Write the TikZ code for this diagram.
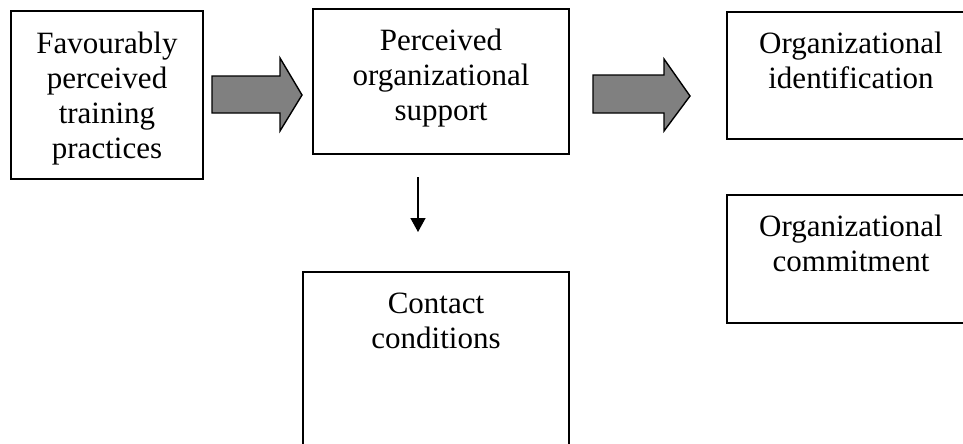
\documentclass[tikz,border=0pt]{standalone}
\usepackage{fontspec}
\setmainfont{Liberation Serif}
\usetikzlibrary{arrows.meta,calc}
\begin{document}
\begin{tikzpicture}[x=1pt,y=-1pt,
  frame/.style={draw=black,line width=1.6pt,fill=white,inner sep=0pt},
  label/.style={anchor=north,inner sep=0pt,align=center,
    font=\fontsize{31}{35}\selectfont},
  blockarrow/.style={draw=black,line width=1.4pt,fill=gray!100!white,fill=gray,line join=miter},
  thinarrow/.style={line width=1.5pt,-{Triangle[width=15pt,length=14pt]}}]
\clip (0,0) rectangle (963,444);
\fill[white] (0,0) rectangle (963,444);
% boxes
\draw[frame] (11,11) rectangle (203,179);
\draw[frame] (313,9) rectangle (569,154);
\draw[frame] (727,12) rectangle (975,139);
\draw[frame] (727,195) rectangle (975,323);
\draw[frame] (303,272) rectangle (569,470);
% box anchors
\coordinate (b1) at (107,11);
\coordinate (b2) at (441,9);
\coordinate (b3) at (851,12);
\coordinate (b4) at (851,195);
\coordinate (b5) at (436,272);
% labels
\node[label] (t1) at ($(b1)+(0,17.5)$) {\strut Favourably\\perceived\\training\\practices};
\node[label] (t2) at ($(b2)+(0,16.5)$) {\strut Perceived\\organizational\\support};
\node[label] (t3) at ($(b3)+(0,16.5)$) {\strut Organizational\\identification};
\node[label] (t4) at ($(b4)+(0,16.5)$) {\strut Organizational\\commitment};
\node[label] (t5) at ($(b5)+(0,16.5)$) {\strut Contact\\conditions};
% block arrows
\draw[blockarrow] (212,76) -- (280,76) -- (280,58) -- (302,95) -- (280,131)
  -- (280,113) -- (212,113) -- cycle;
\draw[blockarrow] (593,75) -- (664,75) -- (664,59) -- (690,96) -- (664,131)
  -- (664,113) -- (593,113) -- cycle;
% downward arrow
\coordinate (d0) at (418,177);
\coordinate (d1) at (418,232);
\draw[thinarrow] (d0) -- (d1);
\end{tikzpicture}
\end{document}
